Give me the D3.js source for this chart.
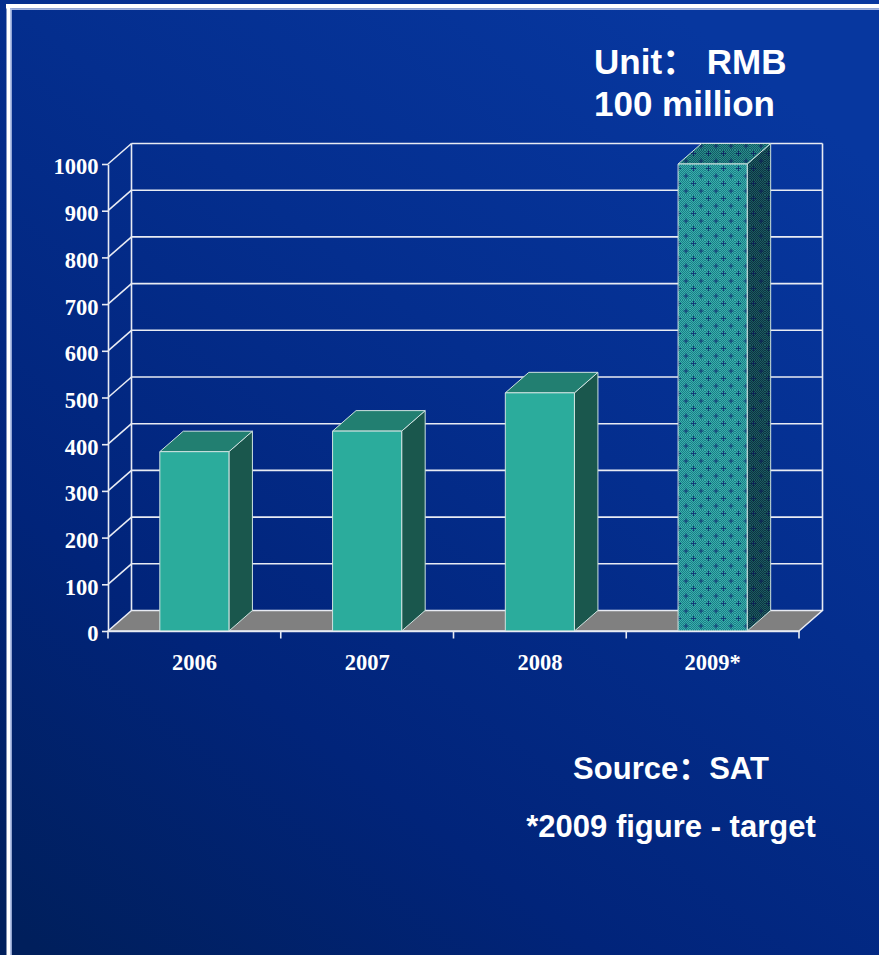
<!DOCTYPE html>
<html>
<head>
<meta charset="utf-8">
<script src="https://cdn.jsdelivr.net/npm/d3@7"></script>
<style>
  html, body { margin: 0; padding: 0; background: #042a86; }
  svg { display: block; }
</style>
</head>
<body>
<svg id="chart" width="879" height="955"></svg>
<script>
// Tax revenue by year (RMB 100 million); the last year is a target figure
const years = ["2006", "2007", "2008", "2009*"];
const revenue = [384, 428, 510, 1000];
const valueTicks = [0, 100, 200, 300, 400, 500, 600, 700, 800, 900, 1000];
const targetYear = "2009*";
const unitLines = ["Unit\uFF1A RMB", "100 million"];
const noteLines = ["Source\uFF1ASAT", "*2009 figure - target"];

const W = 879, H = 955;
const svg = d3.select("#chart");
const defs = svg.append("defs");

// ---- slide background ----
const bg = defs.append("linearGradient").attr("id", "bg")
  .attr("x1", "0.05").attr("y1", "1").attr("x2", "0.75").attr("y2", "0");
[["0", "#001f5c"], ["0.3", "#01247a"], ["0.65", "#042e8e"], ["1", "#07379f"]]
  .forEach(([o, c]) => bg.append("stop").attr("offset", o).attr("stop-color", c));
svg.append("rect").attr("width", W).attr("height", H).attr("fill", "url(#bg)");

// slide frame (top and left edges)
const frame = svg.append("g");
frame.append("rect").attr("x", 6).attr("y", 4).attr("width", W - 6).attr("height", 4.5).attr("fill", "#ffffff");
frame.append("rect").attr("x", 10).attr("y", 8.5).attr("width", W - 10).attr("height", 1.5).attr("fill", "#9fb2e0");
frame.append("rect").attr("x", 6.5).attr("y", 4).attr("width", 3.5).attr("height", H - 4).attr("fill", "#ffffff");
frame.append("rect").attr("x", 10).attr("y", 8.5).attr("width", 1.8).attr("height", H - 8.5).attr("fill", "#b4c3e8");

// ---- patterns for the target bar ----
function facePattern(id, light, dark, cross) {
  const chk = defs.append("pattern").attr("id", id + "-chk")
    .attr("patternUnits", "userSpaceOnUse").attr("width", 2).attr("height", 2);
  chk.append("rect").attr("width", 2).attr("height", 2).attr("fill", dark);
  chk.append("rect").attr("width", 1).attr("height", 1).attr("fill", light);
  chk.append("rect").attr("x", 1).attr("y", 1).attr("width", 1).attr("height", 1).attr("fill", light);
  const p = defs.append("pattern").attr("id", id)
    .attr("patternUnits", "userSpaceOnUse").attr("width", 15).attr("height", 15);
  p.append("rect").attr("width", 15).attr("height", 15).attr("fill", `url(#${id}-chk)`);
  [[3.5, 3.5], [11, 11]].forEach(([cx, cy]) => {
    p.append("path")
      .attr("d", `M${cx - 2.5},${cy}H${cx + 2.5}M${cx},${cy - 2.5}V${cy + 2.5}`)
      .attr("stroke", cross).attr("stroke-width", 1.1);
  });
}
facePattern("tFront", "#3aaeac", "#1a7f86", "#123a78");
facePattern("tTop", "#2a8c8c", "#125c64", "#0e2a66");
facePattern("tSide", "#1c5a62", "#0c3440", "#0b2254");

// ---- scales ----
const x = d3.scaleBand().domain(years).range([108, 799]).paddingInner(0.6).paddingOuter(0.3);
const y = d3.scaleLinear().domain([0, 1000]).range([631, 164]);
const DX = 23.5, DY = 20.5;          // depth offset of the 3-D walls
const [x0, x1] = x.range();
const yBase = y(0);

// ---- walls and gridlines ----
const lineColor = "#e8ebf3";
const grid = svg.append("g").attr("stroke", lineColor).attr("stroke-width", 1.6).attr("fill", "none");
const upper = valueTicks.filter(v => v > 0);
grid.selectAll("line.back").data(upper).join("line").attr("class", "back")
  .attr("x1", x0 + DX).attr("x2", x1 + DX)
  .attr("y1", d => y(d) - DY).attr("y2", d => y(d) - DY);
grid.selectAll("line.side").data(upper).join("line").attr("class", "side")
  .attr("x1", x0).attr("x2", x0 + DX)
  .attr("y1", d => y(d)).attr("y2", d => y(d) - DY);
grid.selectAll("line.edge").data([x0 + DX, x1 + DX]).join("line").attr("class", "edge")
  .attr("x1", d => d).attr("x2", d => d)
  .attr("y1", y(1000) - DY).attr("y2", yBase - DY);

// floor
svg.append("polygon")
  .attr("points", [[x0, yBase], [x1, yBase], [x1 + DX, yBase - DY], [x0 + DX, yBase - DY]].join(" "))
  .attr("fill", "#808080").attr("stroke", lineColor).attr("stroke-width", 1.6).attr("stroke-linejoin", "round");

// ---- bars ----
const bars = svg.append("g").selectAll("g.bar")
  .data(years.map((yr, i) => ({ yr, v: revenue[i] })))
  .join("g").attr("class", "bar")
  .attr("stroke", "#cfe3e0").attr("stroke-width", 1).attr("stroke-linejoin", "round");

const bw = x.bandwidth();
bars.append("polygon") // side face
  .attr("points", d => {
    const bx = x(d.yr) + bw, yt = y(d.v);
    return [[bx, yt], [bx + DX, yt - DY], [bx + DX, yBase - DY], [bx, yBase]].join(" ");
  })
  .attr("fill", d => d.yr === targetYear ? "url(#tSide)" : "#1a574d");
bars.append("polygon") // top face
  .attr("points", d => {
    const bx = x(d.yr), yt = y(d.v);
    return [[bx, yt], [bx + bw, yt], [bx + bw + DX, yt - DY], [bx + DX, yt - DY]].join(" ");
  })
  .attr("fill", d => d.yr === targetYear ? "url(#tTop)" : "#227f71");
bars.append("rect") // front face
  .attr("x", d => x(d.yr)).attr("y", d => y(d.v))
  .attr("width", bw).attr("height", d => yBase - y(d.v))
  .attr("fill", d => d.yr === targetYear ? "url(#tFront)" : "#2bac9c");

// ---- axes ----
const serif = "'Liberation Serif', 'Times New Roman', serif";
const yAxis = svg.append("g").attr("transform", `translate(${x0},0)`)
  .call(d3.axisLeft(y).tickValues(valueTicks).tickFormat(d3.format("d"))
    .tickSize(6).tickSizeOuter(0).tickPadding(3.5));
yAxis.selectAll("path, line").attr("stroke", lineColor).attr("stroke-width", 1.6);
yAxis.selectAll("text")
  .attr("fill", "#ffffff").attr("dy", "0.44em")
  .style("font-family", serif).style("font-weight", "bold").style("font-size", "22.5px");

const xAxis = svg.append("g").attr("transform", `translate(0,${yBase})`)
  .call(d3.axisBottom(x).tickSize(0).tickPadding(23.5).tickSizeOuter(0));
xAxis.select("path").attr("stroke", lineColor).attr("stroke-width", 1.6);
xAxis.selectAll("text")
  .attr("fill", "#ffffff")
  .style("font-family", serif).style("font-weight", "bold").style("font-size", "22.5px");

// category boundary ticks
const bounds = d3.range(years.length + 1).map(i => x0 + i * x.step());
svg.append("g").selectAll("line").data(bounds).join("line")
  .attr("x1", d => d).attr("x2", d => d)
  .attr("y1", yBase).attr("y2", yBase + 7.5)
  .attr("stroke", lineColor).attr("stroke-width", 1.6);

// ---- captions ----
const sans = "'Liberation Sans', Arial, 'Noto Sans CJK SC', sans-serif";
svg.append("g").selectAll("text").data(unitLines).join("text")
  .attr("x", 594).attr("y", (d, i) => 73.5 + i * 42)
  .attr("fill", "#ffffff")
  .style("font-family", sans).style("font-weight", "bold").style("font-size", "35px")
  .text(d => d);

svg.append("g").selectAll("text").data(noteLines).join("text")
  .attr("x", 671).attr("y", (d, i) => 779 + i * 58)
  .attr("text-anchor", "middle").attr("fill", "#ffffff")
  .style("font-family", sans).style("font-weight", "bold").style("font-size", "31px")
  .text(d => d);
</script>
</body>
</html>
